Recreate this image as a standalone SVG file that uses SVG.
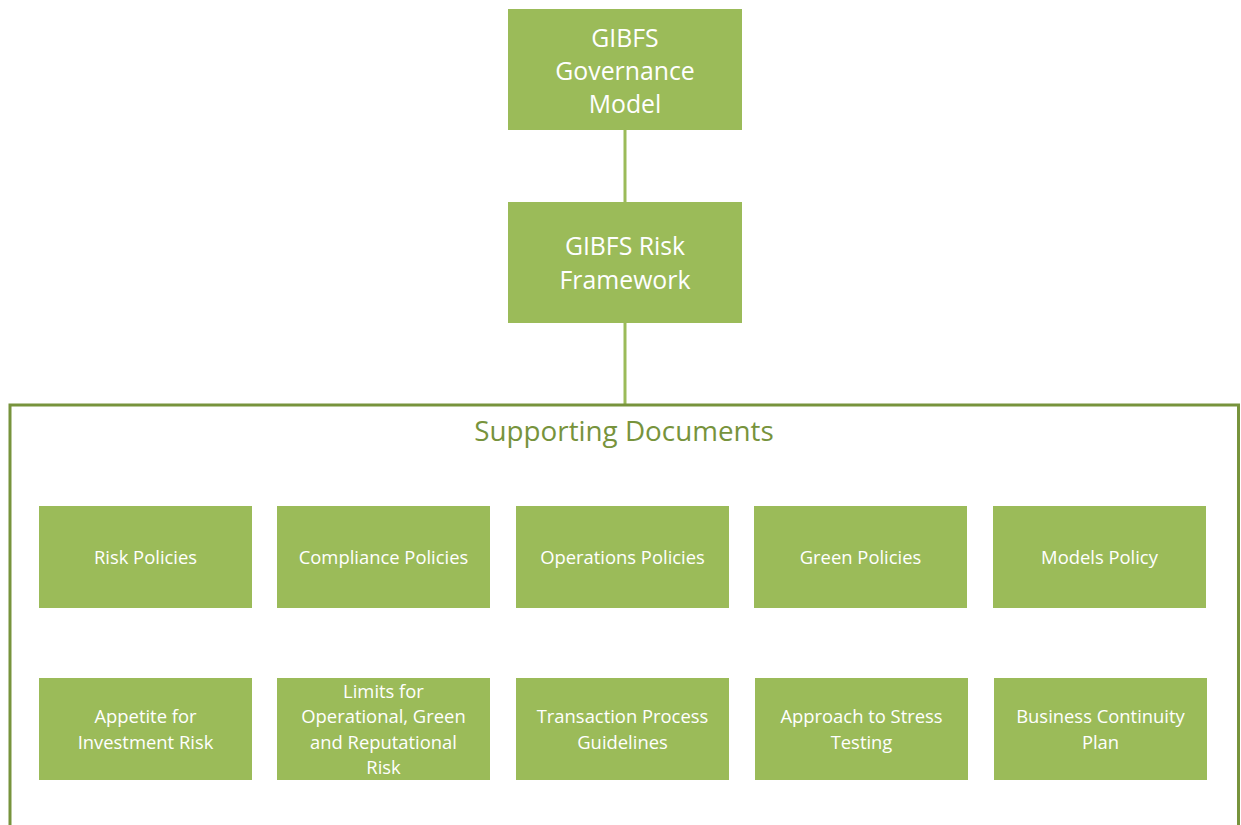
<svg xmlns="http://www.w3.org/2000/svg" width="1241" height="825" viewBox="0 0 1241 825">
  <style>
    .box { fill: #9BBB59; }
    .lbl { fill: #FFFFFF; font-family: "Open Sans", "Liberation Sans", sans-serif; text-anchor: middle; dominant-baseline: central; }
    .big { font-size: 24.8px; }
    .small { font-size: 18.4px; }
    .conn { stroke: #9BBB59; stroke-width: 3; fill: none; }
    .frame { stroke: #77933C; stroke-width: 3; fill: none; }
    .title { fill: #77933C; font-family: "Open Sans", "Liberation Sans", sans-serif; font-size: 27.8px; text-anchor: middle; dominant-baseline: central; }
  </style>
  <rect width="1241" height="825" fill="#FFFFFF"/>

  <!-- connectors -->
  <g id="connectors">
    <line class="conn" x1="625" y1="130" x2="625" y2="202"/>
    <line class="conn" x1="625" y1="323" x2="625" y2="404"/>
  </g>

  <!-- supporting documents frame -->
  <g id="supporting-documents">
    <path class="frame" d="M10,830 V405 H1238.5 V830"/>
    <text class="title" x="624" y="430">Supporting Documents</text>
  </g>

  <g id="governance-model">
    <rect class="box" x="508" y="9" width="234" height="121"/>
    <text class="lbl big" x="625" y="37">GIBFS</text>
    <text class="lbl big" x="625" y="70">Governance</text>
    <text class="lbl big" x="625" y="103">Model</text>
  </g>

  <g id="risk-framework">
    <rect class="box" x="508" y="202" width="234" height="121"/>
    <text class="lbl big" x="625" y="245">GIBFS Risk</text>
    <text class="lbl big" x="625" y="279">Framework</text>
  </g>

  <!-- first row -->
  <g id="risk-policies">
    <rect class="box" x="39" y="506" width="213" height="102"/>
    <text class="lbl small" x="145.5" y="556">Risk Policies</text>
  </g>
  <g id="compliance-policies">
    <rect class="box" x="277" y="506" width="213" height="102"/>
    <text class="lbl small" x="383.5" y="556">Compliance Policies</text>
  </g>
  <g id="operations-policies">
    <rect class="box" x="516" y="506" width="213" height="102"/>
    <text class="lbl small" x="622.5" y="556">Operations Policies</text>
  </g>
  <g id="green-policies">
    <rect class="box" x="754" y="506" width="213" height="102"/>
    <text class="lbl small" x="860.5" y="556">Green Policies</text>
  </g>
  <g id="models-policy">
    <rect class="box" x="993" y="506" width="213" height="102"/>
    <text class="lbl small" x="1099.5" y="556">Models Policy</text>
  </g>

  <!-- second row -->
  <g id="appetite">
    <rect class="box" x="39" y="678" width="213" height="102"/>
    <text class="lbl small" x="145.5" y="715">Appetite for</text>
    <text class="lbl small" x="145.5" y="741">Investment Risk</text>
  </g>
  <g id="limits">
    <rect class="box" x="277" y="678" width="213" height="102"/>
    <text class="lbl small" x="383.5" y="690">Limits for</text>
    <text class="lbl small" x="383.5" y="715">Operational, Green</text>
    <text class="lbl small" x="383.5" y="741">and Reputational</text>
    <text class="lbl small" x="383.5" y="766">Risk</text>
  </g>
  <g id="transaction-process">
    <rect class="box" x="516" y="678" width="213" height="102"/>
    <text class="lbl small" x="622.5" y="715">Transaction Process</text>
    <text class="lbl small" x="622.5" y="741">Guidelines</text>
  </g>
  <g id="stress-testing">
    <rect class="box" x="755" y="678" width="213" height="102"/>
    <text class="lbl small" x="861.5" y="715">Approach to Stress</text>
    <text class="lbl small" x="861.5" y="741">Testing</text>
  </g>
  <g id="business-continuity">
    <rect class="box" x="994" y="678" width="213" height="102"/>
    <text class="lbl small" x="1100.5" y="715">Business Continuity</text>
    <text class="lbl small" x="1100.5" y="741">Plan</text>
  </g>
</svg>
